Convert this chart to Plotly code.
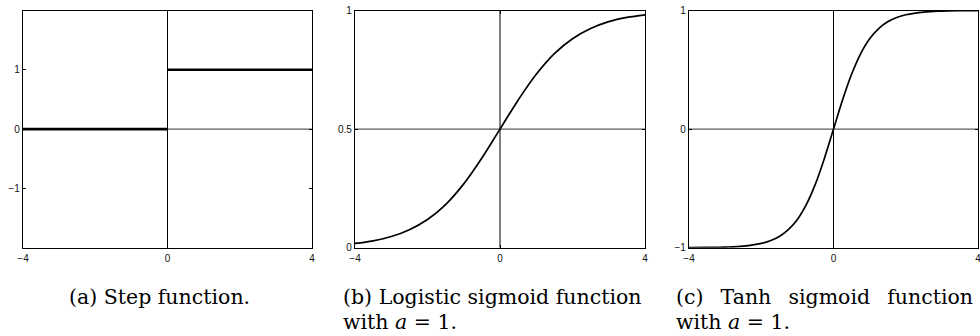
import plotly.graph_objects as go

# ---- data -------------------------------------------------------------
# (a) step function: two flat pieces, split at the origin
step_x = [-4, 0, None, 0, 4]
step_y = [0, 0, None, 1, 1]

# (b) logistic sigmoid, a = 1 (values sampled every 0.5)
sig_x = [-4, -3.5, -3, -2.5, -2, -1.5, -1, -0.5, 0, 0.5, 1, 1.5, 2, 2.5, 3, 3.5, 4]
sig_y = [0.018, 0.029, 0.047, 0.076, 0.119, 0.182, 0.269, 0.378, 0.5,
         0.622, 0.731, 0.818, 0.881, 0.924, 0.953, 0.971, 0.982]

# (c) tanh sigmoid, a = 1 (denser samples through the steep middle)
tanh_x = [-4, -3.5, -3, -2.5, -2, -1.75, -1.5, -1.25, -1, -0.75, -0.5, -0.25, 0,
          0.25, 0.5, 0.75, 1, 1.25, 1.5, 1.75, 2, 2.5, 3, 3.5, 4]
tanh_y = [-0.999, -0.998, -0.995, -0.987, -0.964, -0.941, -0.905, -0.848, -0.762,
          -0.635, -0.462, -0.245, 0.0, 0.245, 0.462, 0.635, 0.762, 0.848, 0.905,
          0.941, 0.964, 0.987, 0.995, 0.998, 0.999]

x_ticks = [-4, 0, 4]
x_tick_text = ["\u22124", "0", "4"]
y_ranges = [[-2, 2], [0, 1], [-1, 1]]
y_ticks = [[-1, 0, 1], [0, 0.5, 1], [-1, 0, 1]]
y_tick_text = [["\u22121", "0", "1"], ["0", "0.5", "1"], ["\u22121", "0", "1"]]
h_cross = [0, 0.5, 0]          # horizontal reference line per panel
v_cross = [0, 0, 0]            # vertical reference line per panel

GAP = "\u00a0\u00a0\u2009"     # stretched inter-word space for the justified caption
captions_line1 = ["(a) Step function.",
                  "(b) Logistic sigmoid function",
                  "(c)" + GAP + "Tanh" + GAP + "sigmoid" + GAP + "function"]
captions_line2 = [None, "with <i>a</i> = 1.", "with <i>a</i> = 1."]

# ---- layout geometry (pixels in a 980 x 336 canvas) -------------------
W, H = 980, 336
panel_px = [(23, 312), (355, 645), (689, 978)]
top_px, bottom_px = 10.5, 247.7
caption_x_px = [67, 341, 674]

fig = go.Figure()

series = [(step_x, step_y, 2.6), (sig_x, sig_y, 1.7), (tanh_x, tanh_y, 1.7)]
for i, (xs, ys, lw) in enumerate(series):
    n = "" if i == 0 else str(i + 1)
    fig.add_trace(go.Scatter(
        x=xs, y=ys, mode="lines", xaxis="x" + n, yaxis="y" + n,
        line=dict(color="black", width=lw,
                  shape="linear" if i == 0 else "spline", smoothing=1.0),
        connectgaps=False, hoverinfo="skip", showlegend=False, cliponaxis=False))

axis_common = dict(
    showline=True, linecolor="black", linewidth=1.3, mirror="ticks",
    ticks="inside", ticklen=3, tickwidth=1, tickcolor="black",
    showgrid=False, zeroline=False, automargin=False,
    ticklabeloverflow="allow",
    tickfont=dict(family="Liberation Sans", size=10, color="#111111"),
    fixedrange=True,
)

for i in range(3):
    n = "" if i == 0 else str(i + 1)
    x0, x1 = panel_px[i]
    fig.update_layout({
        "xaxis" + n: dict(axis_common, domain=[x0 / W, x1 / W], range=[-4, 4],
                          tickvals=x_ticks, ticktext=x_tick_text,
                          anchor="y" + n, ticklabelstandoff=1),
        "yaxis" + n: dict(axis_common, domain=[1 - bottom_px / H, 1 - top_px / H],
                          range=y_ranges[i], tickvals=y_ticks[i],
                          ticktext=y_tick_text[i], anchor="x" + n,
                          ticklabelstandoff=0),
    })
    xr = "x" + n
    yr = "y" + n
    fig.add_shape(type="line", xref=xr + " domain", yref=yr,
                  x0=0, x1=1, y0=h_cross[i], y1=h_cross[i],
                  line=dict(color="#333333", width=1), layer="below")
    fig.add_shape(type="line", xref=xr, yref=yr + " domain",
                  x0=v_cross[i], x1=v_cross[i], y0=0, y1=1,
                  line=dict(color="black", width=1), layer="below")

    cap_font = dict(family="DejaVu Serif", size=20.5, color="black")
    fig.add_annotation(text=captions_line1[i], xref="paper", yref="paper",
                       x=caption_x_px[i] / W, y=1 - 297 / H,
                       xanchor="left", yanchor="middle", showarrow=False,
                       font=cap_font)
    if captions_line2[i]:
        fig.add_annotation(text=captions_line2[i], xref="paper", yref="paper",
                           x=caption_x_px[i] / W, y=1 - 322 / H,
                           xanchor="left", yanchor="middle", showarrow=False,
                           font=cap_font)

fig.update_layout(width=W, height=H, margin=dict(l=0, r=0, t=0, b=0),
                  paper_bgcolor="white", plot_bgcolor="white")

fig.write_html("out.html", config={"displayModeBar": False})
